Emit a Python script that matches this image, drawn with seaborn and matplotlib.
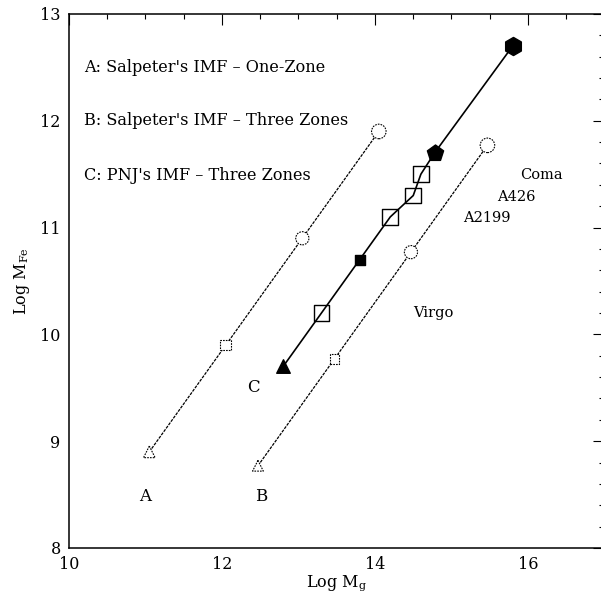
import numpy as np
import pandas as pd
import seaborn as sns
import matplotlib
matplotlib.use("Agg")
import matplotlib.pyplot as plt
from matplotlib.ticker import MultipleLocator

# Model A: Salpeter IMF, one-zone
a_logmg = [11.05, 12.05, 13.05, 14.05]
a_logmfe = [8.90, 9.90, 10.90, 11.90]
a_markers = ["^", "s", "o", "o"]
a_sizes = [70, 60, 90, 110]

# Model B: Salpeter IMF, three zones
b_logmg = [12.47, 13.47, 14.47, 15.47]
b_logmfe = [8.77, 9.77, 10.77, 11.77]
b_markers = ["^", "s", "o", "o"]
b_sizes = [60, 50, 90, 110]

# Model C: PNJ IMF, three zones
c_logmg = [12.80, 13.30, 13.80, 14.20, 14.50, 14.60, 14.78, 15.80]
c_logmfe = [9.70, 10.20, 10.70, 11.10, 11.30, 11.50, 11.70, 12.70]
c_markers = ["^", "s", "s", "s", "s", "s", "p", "h"]
c_filled = [True, False, True, False, False, False, True, True]
c_sizes = [95, 130, 60, 130, 130, 130, 150, 170]

model_labels = ["A", "B", "C"]
model_label_pos = [(11.0, 8.48), (12.51, 8.48), (12.41, 9.50)]

legend_lines = [
    "A: Salpeter's IMF – One-Zone",
    "B: Salpeter's IMF – Three Zones",
    "C: PNJ's IMF – Three Zones",
]
legend_y = [12.50, 12.00, 11.49]

clusters = ["Coma", "A426", "A2199", "Virgo"]
cluster_pos = [(16.18, 11.49), (15.85, 11.29), (15.46, 11.09), (14.76, 10.20)]

sns.set_theme(style="white")
plt.rcParams["font.family"] = ["DejaVu Serif"]
plt.rcParams["mathtext.fontset"] = "dejavuserif"
for key in ("text.color", "axes.labelcolor", "xtick.color", "ytick.color",
            "axes.edgecolor"):
    plt.rcParams[key] = "black"

fig = plt.figure(figsize=(6.01, 5.97), dpi=100)
ax = fig.add_axes([0.1148, 0.0821, 0.891, 0.8945])

dash = (0, (2.4, 0.9))

df_a = pd.DataFrame({"x": a_logmg, "y": a_logmfe})
df_b = pd.DataFrame({"x": b_logmg, "y": b_logmfe})
df_c = pd.DataFrame({"x": c_logmg, "y": c_logmfe})

for df in (df_a, df_b):
    sns.lineplot(data=df, x="x", y="y", ax=ax, sort=False, color="black",
                 linewidth=0.9, linestyle=dash, estimator=None)
sns.lineplot(data=df_c, x="x", y="y", ax=ax, sort=False, color="black",
             linewidth=1.2, estimator=None)

# Dashed-outline symbols for models A and B
for xs, ys, mks, szs in ((a_logmg, a_logmfe, a_markers, a_sizes),
                         (b_logmg, b_logmfe, b_markers, b_sizes)):
    for x, y, m, s in zip(xs, ys, mks, szs):
        sns.scatterplot(x=[x], y=[y], ax=ax, marker=m, s=s,
                        facecolor="white", edgecolor="black",
                        linewidth=0.8, linestyle=(0, (1.5, 1.0)), zorder=3)

# Solid symbols for model C
for x, y, m, f, s in zip(c_logmg, c_logmfe, c_markers, c_filled, c_sizes):
    sns.scatterplot(x=[x], y=[y], ax=ax, marker=m, s=s,
                    facecolor="black" if f else "none", edgecolor="black",
                    linewidth=1.0, zorder=4)

ax.set_xlim(10, 17)
ax.set_ylim(8, 13)
ax.xaxis.set_major_locator(MultipleLocator(2))
ax.xaxis.set_minor_locator(MultipleLocator(0.5))
ax.yaxis.set_major_locator(MultipleLocator(1))
ax.yaxis.set_minor_locator(MultipleLocator(0.2))
ax.tick_params(which="both", direction="in", top=True, right=True,
               color="black", width=0.8, labelsize=11.5, pad=6)
ax.tick_params(which="major", length=8)
ax.tick_params(which="minor", length=3.6)
for sp in ax.spines.values():
    sp.set_color("black")
    sp.set_linewidth(1.1)

ax.set_xlabel(r"Log M$_{\rm g}$", fontsize=11.5, labelpad=0)
ax.set_ylabel(r"Log M$_{\rm Fe}$", fontsize=11.5, labelpad=6)

for t, y in zip(legend_lines, legend_y):
    ax.text(10.2, y, t, fontsize=11.6, ha="left", va="center")
for t, (x, y) in zip(model_labels, model_label_pos):
    ax.text(x, y, t, fontsize=12, ha="center", va="center")
for t, (x, y) in zip(clusters, cluster_pos):
    ax.text(x, y, t, fontsize=10.5, ha="center", va="center")

fig.savefig("out.png", dpi=100)
